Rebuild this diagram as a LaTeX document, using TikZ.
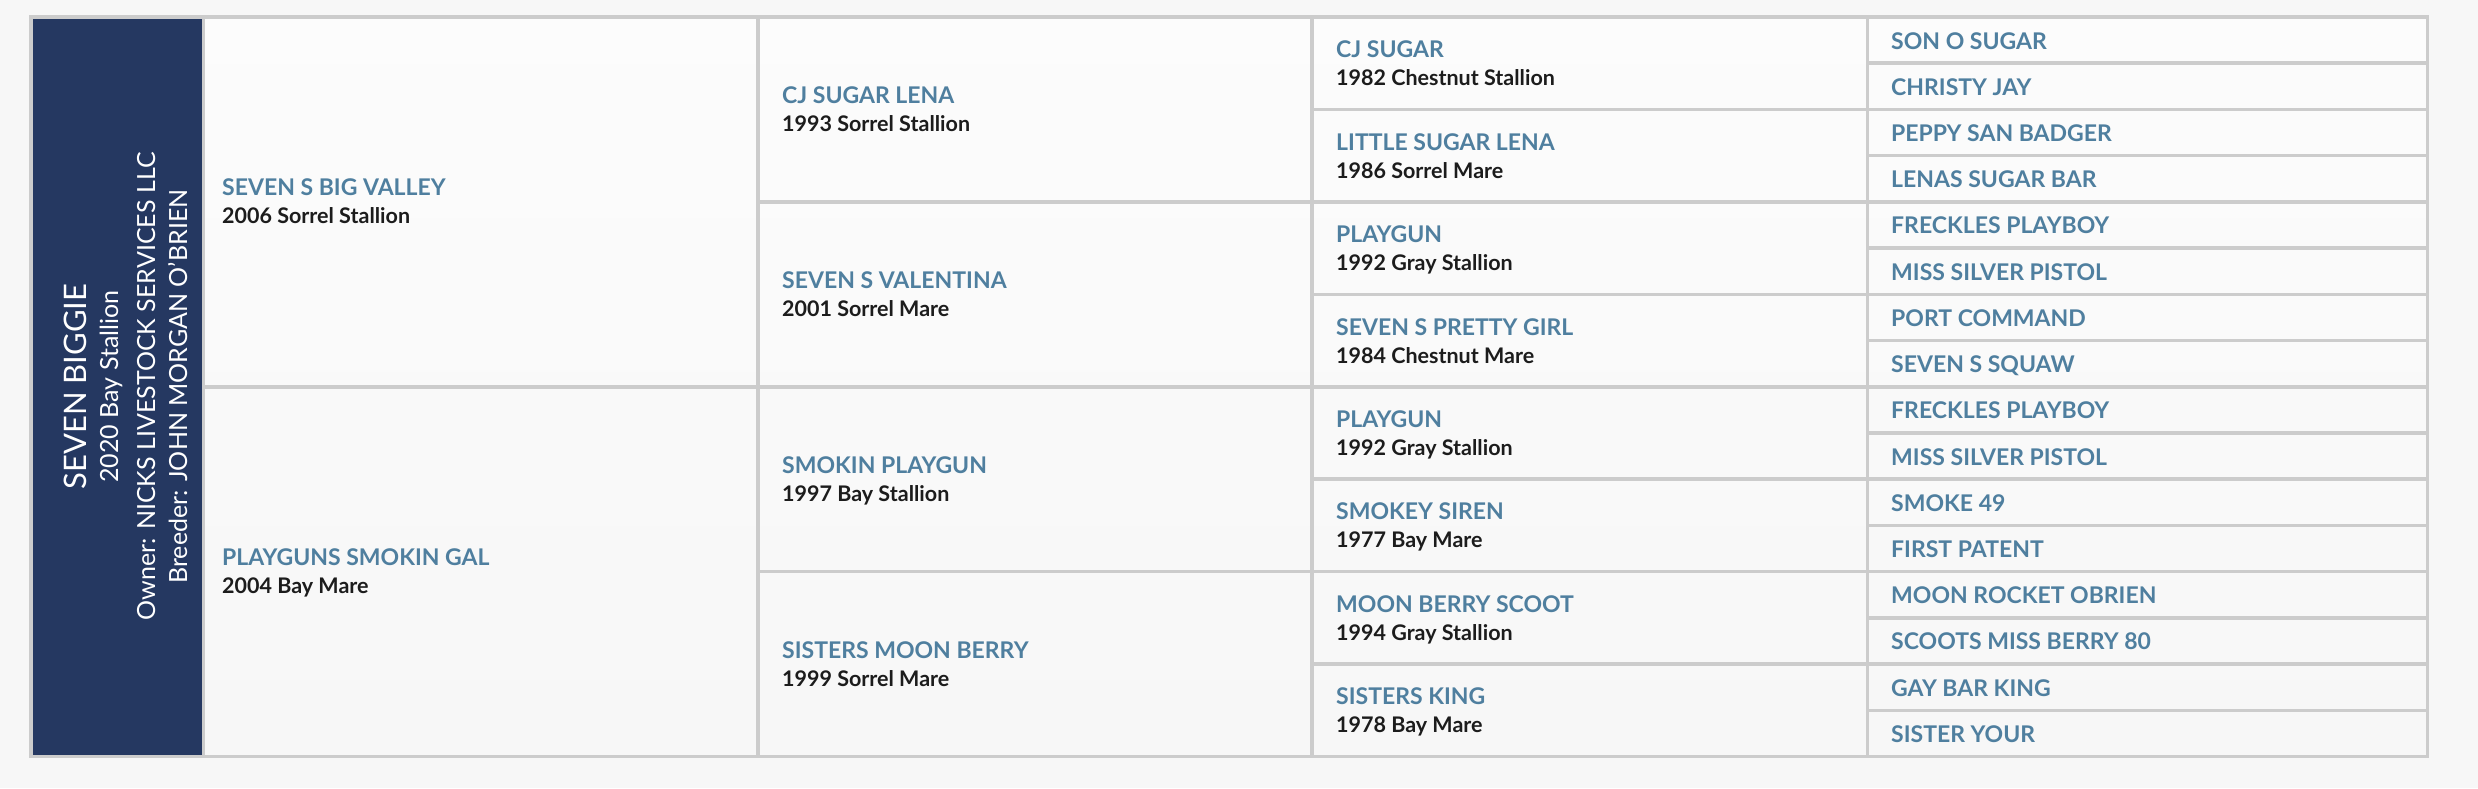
\documentclass[tikz,border=0pt]{standalone}
\usepackage{fontspec}
\setmainfont{Lato}

\definecolor{navy}{HTML}{253861}
\definecolor{steel}{HTML}{4F7F9F}
\definecolor{rulegray}{HTML}{CCCCCC}
\definecolor{pagegray}{HTML}{F7F7F7}
\definecolor{ink}{HTML}{1C1C1C}

\tikzset{
  horse/.style={anchor=base west, inner sep=0pt, text=steel,
    font=\fontsize{23}{23}\selectfont\bfseries},
  horseinfo/.style={anchor=base west, inner sep=0pt, text=ink,
    font=\fontsize{21.5}{21.5}\selectfont\bfseries},
  subject/.style={rotate=90, anchor=base, inner sep=0pt, text=white,
    font=\fontsize{25}{25}\selectfont},
  gridline/.style={rulegray, line width=3.6pt},
}

\begin{document}
\begin{tikzpicture}[x=1pt, y=-1pt]

  \def\rh{46.22}

  % page and table
  \fill[pagegray] (0,0) rectangle (2478,788);
  \shade[top color=white!60!pagegray, bottom color=pagegray] (31,17) rectangle (2427.5,756.5);
  \fill[navy] (31,17) rectangle (203.5,756.5);

  % grid
  \foreach \x in {203.5,758,1312,1867.5}
    \draw[gridline] (\x,17) -- (\x,756.5);
  \draw[gridline] (203.5,{17+\rh*8}) -- (2427.5,{17+\rh*8});
  \foreach \r in {4,12}
    \draw[gridline] (758,{17+\rh*\r}) -- (2427.5,{17+\rh*\r});
  \foreach \r in {2,6,10,14}
    \draw[gridline] (1312,{17+\rh*\r}) -- (2427.5,{17+\rh*\r});
  \foreach \r in {1,3,...,15}
    \draw[gridline] (1867.5,{17+\rh*\r}) -- (2427.5,{17+\rh*\r});
  \draw[gridline] (31,17) rectangle (2427.5,756.5);

  % the horse itself
  \node[subject, font=\fontsize{31}{31}\selectfont] (subj) at (86,386.5) {SEVEN BIGGIE};
  \node[subject] (subj-born) at (118,386.5) {2020 Bay Stallion};
  \node[subject] (subj-owner) at (155,386.5) {Owner: NICKS LIVESTOCK SERVICES LLC};
  \node[subject] (subj-breeder) at (187,386.5) {Breeder: JOHN MORGAN O'BRIEN};

  % sire and dam
  \foreach \nm/\inf [count=\i from 0] in {SEVEN S BIG VALLEY/2006 Sorrel Stallion,
      PLAYGUNS SMOKIN GAL/2004 Bay Mare}{
    \node[horse] (gen1-\i) at (222,{17+\rh*8*(\i+0.5)-6}) {\nm};
    \node[horseinfo] (gen1-\i-info) at (222,{17+\rh*8*(\i+0.5)+22}) {\inf};
  }

  % grandparents
  \foreach \nm/\inf [count=\i from 0] in {CJ SUGAR LENA/1993 Sorrel Stallion,
      SEVEN S VALENTINA/2001 Sorrel Mare, SMOKIN PLAYGUN/1997 Bay Stallion,
      SISTERS MOON BERRY/1999 Sorrel Mare}{
    \node[horse] (gen2-\i) at (782,{17+\rh*4*(\i+0.5)-6}) {\nm};
    \node[horseinfo] (gen2-\i-info) at (782,{17+\rh*4*(\i+0.5)+22}) {\inf};
  }

  % great grandparents
  \foreach \nm/\inf [count=\i from 0] in {CJ SUGAR/1982 Chestnut Stallion,
      LITTLE SUGAR LENA/1986 Sorrel Mare, PLAYGUN/1992 Gray Stallion,
      SEVEN S PRETTY GIRL/1984 Chestnut Mare, PLAYGUN/1992 Gray Stallion,
      SMOKEY SIREN/1977 Bay Mare, MOON BERRY SCOOT/1994 Gray Stallion,
      SISTERS KING/1978 Bay Mare}{
    \node[horse] (gen3-\i) at (1336,{17+\rh*2*(\i+0.5)-5.5}) {\nm};
    \node[horseinfo] (gen3-\i-info) at (1336,{17+\rh*2*(\i+0.5)+22.5}) {\inf};
  }

  % fourth generation
  \foreach \nm [count=\i from 0] in {SON O SUGAR, CHRISTY JAY, PEPPY SAN BADGER,
      LENAS SUGAR BAR, FRECKLES PLAYBOY, MISS SILVER PISTOL, PORT COMMAND,
      SEVEN S SQUAW, FRECKLES PLAYBOY, MISS SILVER PISTOL, SMOKE 49,
      FIRST PATENT, MOON ROCKET OBRIEN, SCOOTS MISS BERRY 80, GAY BAR KING,
      SISTER YOUR}
    \node[horse] (gen4-\i) at (1891,{17+\rh*(\i+0.5)+9}) {\nm};

\end{tikzpicture}
\end{document}
